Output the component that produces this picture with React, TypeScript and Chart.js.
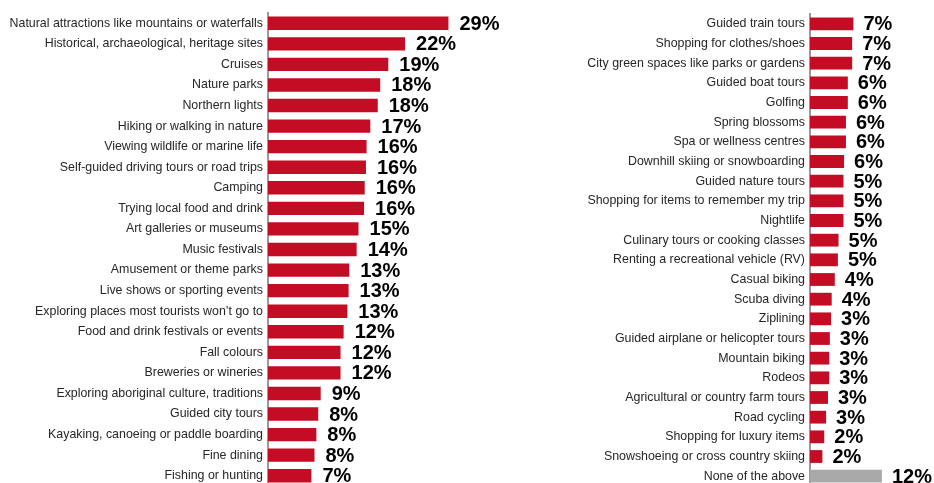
import React, { useEffect, useRef } from "react";
import { Chart, registerables } from "chart.js";

Chart.register(...registerables);

const leftCategories = [
  "Natural attractions like mountains or waterfalls",
  "Historical, archaeological, heritage sites",
  "Cruises",
  "Nature parks",
  "Northern lights",
  "Hiking or walking in nature",
  "Viewing wildlife or marine life",
  "Self-guided driving tours or road trips",
  "Camping",
  "Trying local food and drink",
  "Art galleries or museums",
  "Music festivals",
  "Amusement or theme parks",
  "Live shows or sporting events",
  "Exploring places most tourists won\u2019t go to",
  "Food and drink festivals or events",
  "Fall colours",
  "Breweries or wineries",
  "Exploring aboriginal culture, traditions",
  "Guided city tours",
  "Kayaking, canoeing or paddle boarding",
  "Fine dining",
  "Fishing or hunting",
];
const leftValues = [29.1, 22.1, 19.4, 18.1, 17.7, 16.5, 15.9, 15.8, 15.6, 15.5, 14.6, 14.3, 13.1, 13.0, 12.8, 12.2, 11.7, 11.7, 8.5, 8.1, 7.8, 7.5, 7.0];
const leftLabels = ["29%", "22%", "19%", "18%", "18%", "17%", "16%", "16%", "16%", "16%", "15%", "14%", "13%", "13%", "13%", "12%", "12%", "12%", "9%", "8%", "8%", "8%", "7%"];

const rightCategories = [
  "Guided train tours",
  "Shopping for clothes/shoes",
  "City green spaces like parks or gardens",
  "Guided boat tours",
  "Golfing",
  "Spring blossoms",
  "Spa or wellness centres",
  "Downhill skiing or snowboarding",
  "Guided nature tours",
  "Shopping for items to remember my trip",
  "Nightlife",
  "Culinary tours or cooking classes",
  "Renting a recreational vehicle (RV)",
  "Casual biking",
  "Scuba diving",
  "Ziplining",
  "Guided airplane or helicopter tours",
  "Mountain biking",
  "Rodeos",
  "Agricultural or country farm tours",
  "Road cycling",
  "Shopping for luxury items",
  "Snowshoeing or cross country skiing",
  "None of the above",
];
const rightValues = [7.0, 6.8, 6.8, 6.1, 6.1, 5.8, 5.8, 5.5, 5.4, 5.4, 5.4, 4.6, 4.5, 4.0, 3.5, 3.4, 3.2, 3.1, 3.1, 2.9, 2.6, 2.3, 2.0, 11.6];
const rightLabels = ["7%", "7%", "7%", "6%", "6%", "6%", "6%", "6%", "5%", "5%", "5%", "5%", "5%", "4%", "4%", "3%", "3%", "3%", "3%", "3%", "3%", "2%", "2%", "12%"];

const RED = "#C40D25";
const GREY = "#A9A9A9";
const FONT = "'Liberation Sans', Arial, Helvetica, sans-serif";

function makeConfig(
  categories: string[],
  values: number[],
  labels: string[],
  colors: string[],
  axisWidth: number,
  xMax: number,
  padTop: number,
  gap: number
): any {
  const labelPlugin = {
    id: "valueLabels",
    afterDatasetsDraw(chart: any) {
      const ctx = chart.ctx;
      const meta = chart.getDatasetMeta(0);
      ctx.save();
      ctx.font = `bold 20px ${FONT}`;
      ctx.fillStyle = "#000000";
      ctx.textAlign = "left";
      ctx.textBaseline = "middle";
      meta.data.forEach((el: any, i: number) => {
        ctx.fillText(labels[i], el.x + gap, el.y + 1);
      });
      ctx.restore();
    },
  };
  return {
    type: "bar",
    data: {
      labels: categories,
      datasets: [
        {
          data: values,
          backgroundColor: colors,
          borderWidth: 0,
          barPercentage: 0.65,
          categoryPercentage: 1,
        },
      ],
    },
    options: {
      indexAxis: "y",
      animation: false,
      responsive: false,
      maintainAspectRatio: false,
      devicePixelRatio: 1,
      layout: { padding: { top: padTop, bottom: 0, left: 0, right: 0 } },
      plugins: {
        legend: { display: false },
        tooltip: { enabled: false },
        title: { display: false },
      },
      scales: {
        x: {
          display: false,
          min: 0,
          max: xMax,
        },
        y: {
          grid: { display: false, drawTicks: false },
          border: { display: true, color: "#9A9A9A", width: 2 },
          ticks: {
            color: "#262626",
            padding: 5,
            autoSkip: false,
            font: { family: FONT, size: 12.4 },
          },
          afterFit(scale: any) {
            scale.width = axisWidth;
            scale.paddingTop = 0;
            scale.paddingBottom = 0;
          },
        },
      },
    },
    plugins: [labelPlugin],
  };
}

export default function App() {
  const leftRef = useRef<HTMLCanvasElement>(null);
  const rightRef = useRef<HTMLCanvasElement>(null);

  useEffect(() => {
    const leftColors = leftValues.map(() => RED);
    const rightColors = rightCategories.map((c) => (c === "None of the above" ? GREY : RED));
    const c1 = new Chart(
      leftRef.current as HTMLCanvasElement,
      makeConfig(leftCategories, leftValues, leftLabels, leftColors, 268, 40, 13, 11)
    );
    const c2 = new Chart(
      rightRef.current as HTMLCanvasElement,
      makeConfig(rightCategories, rightValues, rightLabels, rightColors, 290, 20, 14, 10)
    );
    return () => {
      c1.destroy();
      c2.destroy();
    };
  }, []);

  return (
    <div
      style={{
        position: "fixed",
        left: 0,
        top: 0,
        width: 934,
        height: 483,
        overflow: "hidden",
        background: "#ffffff",
      }}
    >
      <canvas
        ref={leftRef}
        width={516}
        height={486}
        style={{ position: "absolute", left: 0, top: 0, width: 516, height: 486 }}
      />
      <canvas
        ref={rightRef}
        width={414}
        height={486}
        style={{ position: "absolute", left: 520, top: 0, width: 414, height: 486 }}
      />
    </div>
  );
}
